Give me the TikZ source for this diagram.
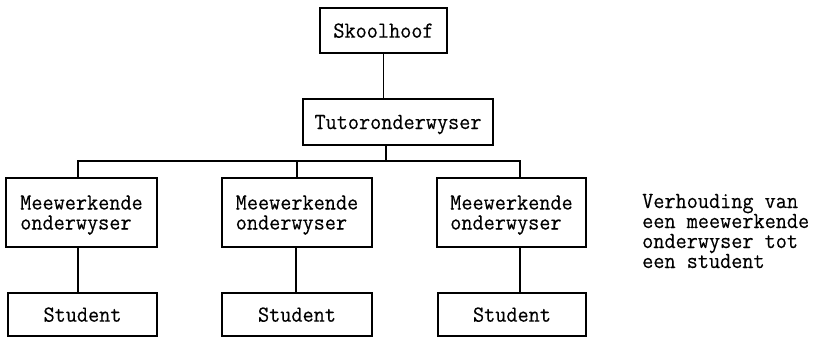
\documentclass[tikz,border=0pt]{standalone}
\usepackage{fontspec}
\newfontfamily\tw[FakeStretch=0.94,FakeBold=0.3]{Latin Modern Mono}
\begin{document}
\begin{tikzpicture}[x=1pt,y=-1pt,
  box/.style={draw, line width=1.7pt, inner sep=0pt, align=left, text depth=0pt,
    font=\tw\fontsize{23pt}{20pt}\selectfont},
  conn/.style={line width=1.2pt},
  note/.style={inner sep=0pt, align=left, anchor=base west,
    font=\tw\fontsize{23pt}{20pt}\selectfont}]
\useasboundingbox (0,0) rectangle (815,337);
\node[box, minimum width=127pt, minimum height=45pt] (sk) at (383.5,30.5) {Skoolhoof};
\node[box, minimum width=190pt, minimum height=46pt] (tut) at (398,122) {Tutoronderwyser};
\node[box, minimum width=151pt, minimum height=69pt] (m1) at (81.5,212.5) {Meewerkende\\onderwyser};
\node[box, minimum width=150pt, minimum height=69pt] (m2) at (297,212.5) {Meewerkende\\onderwyser};
\node[box, minimum width=149pt, minimum height=69pt] (m3) at (511.5,212.5) {Meewerkende\\onderwyser};
\node[box, minimum width=149pt, minimum height=43pt] (s1) at (82.5,314.5) {Student};
\node[box, minimum width=150pt, minimum height=43pt] (s2) at (297,314.5) {Student};
\node[box, minimum width=148pt, minimum height=43pt] (s3) at (512,314.5) {Student};
\node[note] (nt) at (642,268) {Verhouding van\\een meewerkende\\onderwyser tot\\een student};
\coordinate (bus) at (386,161);
\draw[conn] (sk.south) -- (sk.south |- tut.north);
\draw[conn] (tut.south -| bus) -- (bus);
\draw[conn] ([xshift=-3.5pt]m1.north) |- ([xshift=8.5pt]m3.north |- bus) -- ([xshift=8.5pt]m3.north);
\draw[conn] (m2.north) -- (m2.north |- bus);
\draw[conn] ([xshift=-3.5pt]m1.south) -- ([xshift=-3.5pt]m1.south |- s1.north);
\draw[conn] ([xshift=-1pt]m2.south) -- ([xshift=-1pt]m2.south |- s2.north);
\draw[conn] ([xshift=8.5pt]m3.south) -- ([xshift=8.5pt]m3.south |- s3.north);
\end{tikzpicture}
\end{document}
